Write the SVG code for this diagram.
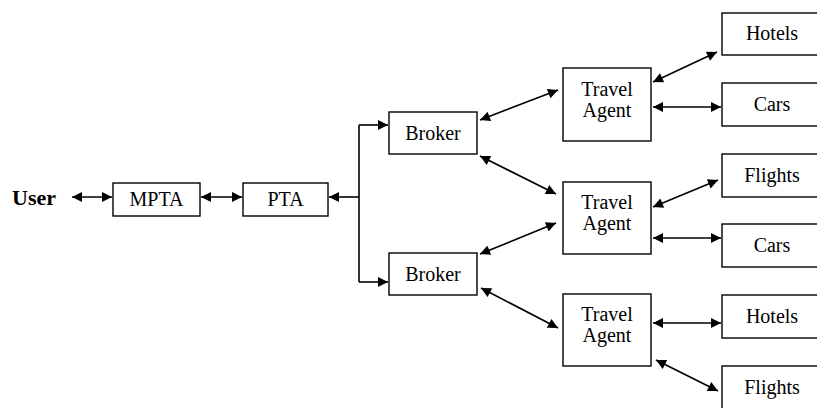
<svg xmlns="http://www.w3.org/2000/svg" width="817" height="408" viewBox="0 0 817 408">
  <style>
    .box { fill: #ffffff; stroke: #000000; stroke-width: 1.4; }
    .lbl { font-family: "Liberation Serif", "Times New Roman", serif; font-size: 20px; fill: #000000; text-anchor: middle; }
    .user { font-family: "Liberation Serif", "Times New Roman", serif; font-size: 22px; font-weight: bold; fill: #000000; }
    .link { fill: none; stroke: #000000; stroke-width: 1.6; }
    .both { marker-start: url(#head); marker-end: url(#head); }
    .one { marker-end: url(#head); }
  </style>
  <defs>
    <marker id="head" viewBox="0 0 10 10" refX="10" refY="5" markerWidth="12" markerHeight="10" markerUnits="userSpaceOnUse" orient="auto-start-reverse">
      <path d="M0,0 L10,5 L0,10 z" fill="#000000"/>
    </marker>
  </defs>
  <rect width="817" height="408" fill="#ffffff"/>

  <g id="connectors">
    <path class="link both" d="M72,197 L112,197"/>
    <path class="link both" d="M201,197 L242,197"/>
    <path class="link" d="M359,125 V282"/>
    <path class="link one" d="M359,197 L329,197"/>
    <path class="link one" d="M359,125 L388,125"/>
    <path class="link one" d="M359,282 L388,282"/>
    <path class="link both" d="M480,120 L558,90"/>
    <path class="link both" d="M480,156 L556,194"/>
    <path class="link both" d="M480,254 L556,223"/>
    <path class="link both" d="M481,288 L558,328"/>
    <path class="link both" d="M653,82 L717,52"/>
    <path class="link both" d="M653,107 L721,107"/>
    <path class="link both" d="M653,207 L718,180"/>
    <path class="link both" d="M653,238 L721,238"/>
    <path class="link both" d="M653,323 L721,323"/>
    <path class="link both" d="M656,360 L718,391"/>
  </g>

  <g id="user"><text class="user" x="12" y="205">User</text></g>
  <g id="mpta"><rect class="box" x="113" y="183" width="87" height="33"/><text class="lbl" x="156.5" y="206">MPTA</text></g>
  <g id="pta"><rect class="box" x="243" y="183" width="85" height="33"/><text class="lbl" x="285.5" y="206">PTA</text></g>
  <g id="broker1"><rect class="box" x="389" y="112" width="88" height="42"/><text class="lbl" x="433" y="140">Broker</text></g>
  <g id="broker2"><rect class="box" x="389" y="253" width="88" height="42"/><text class="lbl" x="433" y="281">Broker</text></g>
  <g id="agent1"><rect class="box" x="563" y="68" width="88" height="73"/><text class="lbl" x="607" y="96">Travel</text><text class="lbl" x="607" y="117">Agent</text></g>
  <g id="agent2"><rect class="box" x="563" y="182" width="88" height="72"/><text class="lbl" x="607" y="209">Travel</text><text class="lbl" x="607" y="230">Agent</text></g>
  <g id="agent3"><rect class="box" x="563" y="294" width="88" height="72"/><text class="lbl" x="607" y="321">Travel</text><text class="lbl" x="607" y="342">Agent</text></g>
  <g id="hotels1"><rect class="box" x="722" y="13" width="100" height="42"/><text class="lbl" x="772" y="40">Hotels</text></g>
  <g id="cars1"><rect class="box" x="722" y="83" width="100" height="43"/><text class="lbl" x="772" y="111">Cars</text></g>
  <g id="flights2"><rect class="box" x="722" y="154" width="100" height="43"/><text class="lbl" x="772" y="182">Flights</text></g>
  <g id="cars2"><rect class="box" x="722" y="224" width="100" height="43"/><text class="lbl" x="772" y="252">Cars</text></g>
  <g id="hotels3"><rect class="box" x="722" y="295" width="100" height="43"/><text class="lbl" x="772" y="323">Hotels</text></g>
  <g id="flights3"><rect class="box" x="722" y="366" width="100" height="43"/><text class="lbl" x="772" y="394">Flights</text></g>
</svg>
